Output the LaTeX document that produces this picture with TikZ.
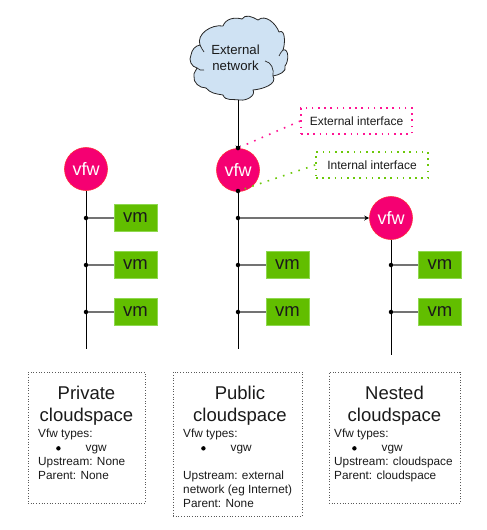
\documentclass[tikz,border=0pt]{standalone}
\usepackage{fontspec}
\setmainfont{Liberation Sans}
\usetikzlibrary{arrows.meta}
\definecolor{vfwfill}{HTML}{F50072}
\definecolor{vfwline}{HTML}{FF2A3A}
\definecolor{vmfill}{HTML}{62BE00}
\definecolor{vmline}{HTML}{8FD850}
\definecolor{cloudfill}{HTML}{CFE2F3}
\definecolor{pinkdot}{HTML}{FF1493}
\definecolor{greendot}{HTML}{6CC80A}
\definecolor{txt}{HTML}{1A1A1A}
\tikzset{
  vfwnode/.style={circle,draw=vfwline,line width=0.6pt,fill=vfwfill,text=white,minimum size=43pt,inner sep=0pt,font=\fontsize{18}{20}\selectfont},
  vmnode/.style={rectangle,draw=vmline,line width=0.6pt,fill=vmfill,text=txt,minimum width=43pt,minimum height=27pt,inner sep=0pt,font=\fontsize{18.5}{20}\selectfont},
  bus/.style={black,line width=1pt},
  branch/.style={draw=black!55,line width=1.3pt},
  jdot/.style={circle,fill=black,minimum size=4.5pt,inner sep=0pt},
  infobox/.style={draw=black!65,dotted,line width=0.7pt,minimum width=0pt},
  pinkbox/.style={draw=pinkdot,line width=1.6pt,dash pattern=on 1.6pt off 4.6pt,text=txt,font=\fontsize{12}{13}\selectfont,inner sep=0pt},
  greenbox/.style={draw=greendot,line width=1.6pt,dash pattern=on 1.6pt off 4.6pt,text=txt,font=\fontsize{12}{13}\selectfont,inner sep=0pt},
  titletext/.style={align=center,text=txt,font=\fontsize{18.5}{22}\selectfont,inner sep=0pt},
  bodytext/.style={align=left,text=txt,font=\fontsize{11.8}{14}\selectfont,inner sep=0pt,anchor=north west},
  cloudshape/.style={draw=black!85,fill=cloudfill,line width=0.8pt,line join=round},
  cloudtext/.style={align=center,text=txt,font=\fontsize{13.2}{16}\selectfont,inner sep=0pt}
}
\newcommand{\vgwline}[1]{\hspace*{#1}\raisebox{1.2pt}{\tikz\fill[black] circle (2.2pt);}\hspace{25pt}vgw}
\begin{document}
\begin{tikzpicture}[x=1pt,y=-1pt]
\useasboundingbox (0,0) rectangle (487,530);
% cloud
\draw[cloudshape]
 (200,45) to[out=110,in=170] (223,26)
 to[out=70,in=165] (242,19)
 to[out=60,in=150] (258,20)
 to[out=40,in=110] (279,32)
 to[out=30,in=70] (283,50)
 to[out=20,in=50] (285,66)
 to[out=-70,in=10] (273,76)
 to[out=-60,in=5] (253,90)
 to[out=-60,in=-10] (240,100)
 to[out=170,in=-70] (223,95)
 to[out=170,in=-50] (206,88)
 to[out=180,in=-100] (194,76)
 to[out=110,in=-100] (197,68)
 to[out=170,in=-120] (191,55)
 to[out=80,in=190] cycle;
\draw[black!85,line width=0.7pt] (197,68) to[out=-40,in=200] (204,70);
\draw[black!85,line width=0.7pt] (200,45) to[out=-60,in=130] (204,52);
\draw[black!85,line width=0.7pt] (273,76) to[out=80,in=-10] (265,61);
\draw[black!85,line width=0.7pt] (283,50) to[out=-120,in=80] (279,56);
\node[cloudtext] (ext) at (235.5,58) {External\\network};
\coordinate (cloudb) at (238,100);
% vfw and vm
\node[vfwnode] (vfwa) at (86,169) {vfw};
\node[vfwnode] (vfwb) at (238,170) {vfw};
\node[vfwnode] (vfwc) at (391,218) {vfw};
\node[vmnode] (vma1) at (135.5,218) {vm};
\node[vmnode] (vma2) at (135.5,265) {vm};
\node[vmnode] (vma3) at (135.5,312) {vm};
\node[vmnode] (vmb2) at (287.5,265) {vm};
\node[vmnode] (vmb3) at (287.5,312) {vm};
\node[vmnode] (vmc2) at (440,265) {vm};
\node[vmnode] (vmc3) at (440,312) {vm};
% junctions
\node[jdot] (ja1) at (86,218) {};
\node[jdot] (ja2) at (86,265) {};
\node[jdot] (ja3) at (86,312) {};
\node[jdot] (jb0) at (238,148) {};
\node[jdot] (jb9) at (238,191) {};
\node[jdot] (jb1) at (238,218) {};
\node[jdot] (jb2) at (238,265) {};
\node[jdot] (jb3) at (238,312) {};
\node[jdot] (jc2) at (391,265) {};
\node[jdot] (jc3) at (391,312) {};
\coordinate (enda) at (86,349);
\coordinate (endb) at (238,349);
\coordinate (endc) at (391,355);
% buses
\draw[bus] (vfwa.south) -- (enda);
\draw[bus] (jb9) -- (endb);
\draw[bus] (vfwc.south) -- (endc);
\draw[bus,-{Stealth[length=5pt,width=5pt]}] (cloudb) -- (jb0.south);
% branches
\foreach \p/\q in {ja1/vma1,ja2/vma2,ja3/vma3,jb2/vmb2,jb3/vmb3,jc2/vmc2,jc3/vmc3}
  \draw[branch] (\p) -- (\q);
\draw[branch,-{Stealth[length=5pt,width=5pt,black]}] (jb1) -- (vfwc);
% interface labels
\node[pinkbox,minimum width=111pt,minimum height=26pt] (exti) at (356.5,121) {External interface};
\node[greenbox,minimum width=112pt,minimum height=26pt] (inti) at (372,165) {Internal interface};
\draw[pinkdot,line width=1.6pt,dash pattern=on 1.6pt off 6.5pt] (exti.west) -- (jb0);
\draw[greendot,line width=1.6pt,dash pattern=on 1.6pt off 6.5pt] (inti.west) -- (jb9);
% info boxes
\node[infobox,minimum width=117pt,minimum height=131pt] (boxa) at (86.5,437.5) {};
\node[infobox,minimum width=129pt,minimum height=144pt] (boxb) at (237.5,444) {};
\node[infobox,minimum width=131pt,minimum height=131pt] (boxc) at (394.5,437.5) {};
\node[titletext] (ta) at (86.5,405.5) {Private\\cloudspace};
\node[titletext] (tb) at (240,405.5) {Public\\cloudspace};
\node[titletext] (tc) at (394.5,405.5) {Nested\\cloudspace};
\node[bodytext] (ba) at (38,429) {Vfw types:\\\vgwline{18pt}\\Upstream: None\\Parent: None};
\node[bodytext] (bb) at (183,429) {Vfw types:\\\vgwline{18pt}\\[14pt]Upstream: external\\network (eg Internet)\\Parent: None};
\node[bodytext] (bc) at (334,429) {Vfw types:\\\vgwline{18pt}\\Upstream: cloudspace\\Parent: cloudspace};
\end{tikzpicture}
\end{document}
